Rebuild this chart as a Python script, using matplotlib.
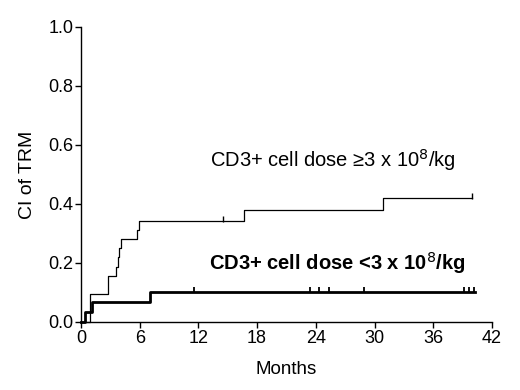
import matplotlib
matplotlib.use("Agg")
import matplotlib.pyplot as plt

plt.rcParams['font.family'] = ['Liberation Sans', 'DejaVu Sans']

# High dose group (CD3+ >= 3 x 10^8/kg), thin line
hi_times = [0, 0.9, 2.8, 3.6, 3.75, 3.9, 4.05, 5.7, 5.95, 16.7, 30.9, 40.0]
hi_vals = [0, 0.094, 0.156, 0.188, 0.219, 0.25, 0.281, 0.312, 0.344, 0.38, 0.42, 0.42]
hi_censor = [14.5, 40.0]

# Low dose group (CD3+ < 3 x 10^8/kg), thick line
lo_times = [0, 0.4, 1.15, 7.0, 40.3]
lo_vals = [0, 0.033, 0.067, 0.10, 0.10]
lo_censor = [11.5, 23.4, 24.3, 25.3, 28.9, 39.1, 39.7, 40.2]

x_ticks = [0, 6, 12, 18, 24, 30, 36, 42]
y_ticks = [0.0, 0.2, 0.4, 0.6, 0.8, 1.0]

fig = plt.figure(figsize=(5.2, 3.9), dpi=100)
ax = fig.add_axes([0.1558, 0.1744, 0.946 - 0.1558, 0.9308 - 0.1744])

ax.step(hi_times, hi_vals, where='post', color='black', lw=0.9, clip_on=False)
ax.step(lo_times, lo_vals, where='post', color='black', lw=2.0, clip_on=False)

def val_at(times, vals, t):
    v = vals[0]
    for ti, vi in zip(times, vals):
        if ti <= t:
            v = vi
    return v

ax.plot(hi_censor, [val_at(hi_times, hi_vals, t) + 0.006 for t in hi_censor],
        ls='none', marker='|', ms=4, mew=1.0, color='black', clip_on=False)
ax.plot(lo_censor, [val_at(lo_times, lo_vals, t) + 0.008 for t in lo_censor],
        ls='none', marker='|', ms=4, mew=1.3, color='black', clip_on=False)

ax.set_xlim(0, 42)
ax.set_ylim(0, 1.0)
ax.set_xticks(x_ticks)
ax.set_yticks(y_ticks)
ax.set_yticklabels([f"{v:.1f}" for v in y_ticks])
ax.tick_params(direction='out', length=4, width=1, labelsize=13, pad=1.5)
for s in ['top', 'right']:
    ax.spines[s].set_visible(False)
for s in ['left', 'bottom']:
    ax.spines[s].set_linewidth(1.0)

ax.set_xlabel('Months', fontsize=13.5, labelpad=10)
ax.set_ylabel('CI of TRM', fontsize=14, labelpad=9)

ax.text(25.7, 0.55, 'CD3+ cell dose \u22653 x 10$^{8}$/kg', fontsize=14.5,
        ha='center', va='center')
ax.text(26.2, 0.20, 'CD3+ cell dose <3 x 10$^{8}$/kg', fontsize=14.5,
        fontweight='bold', ha='center', va='center')

fig.savefig('out.png', dpi=100)
